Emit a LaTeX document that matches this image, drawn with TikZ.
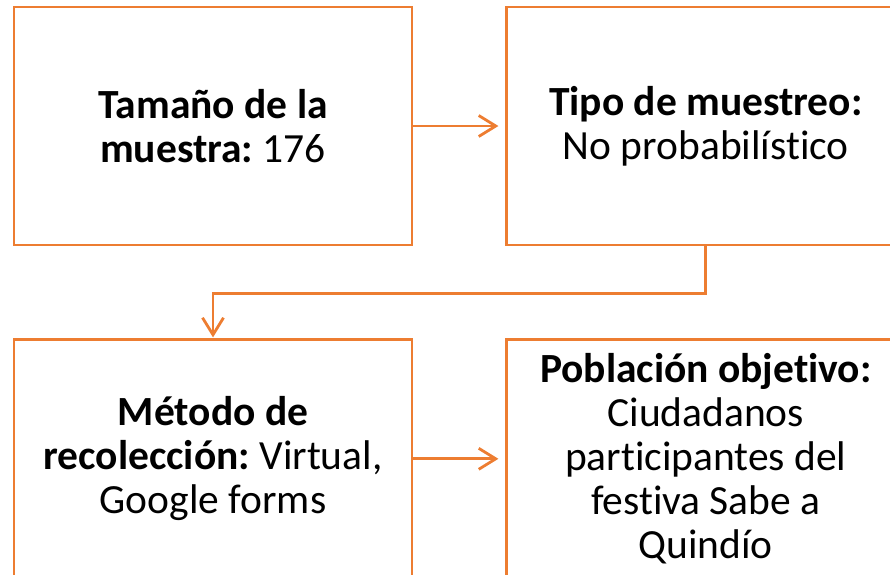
\documentclass[tikz,border=0pt]{standalone}
\usepackage{fontspec}
\setmainfont[Ligatures=NoCommon]{Carlito}
\frenchspacing
\usepackage{tikz}
\usetikzlibrary{arrows.meta,positioning}
\definecolor{boxorange}{HTML}{ED7D31}
\tikzstyle{cbox}=[rectangle, draw=boxorange, line width=2.8pt, minimum width=398pt, minimum height=238pt, align=center, inner sep=0pt, font=\fontsize{41.5}{44}\selectfont]
\tikzstyle{conn}=[draw=boxorange, line width=2.8pt, -{Straight Barb[length=17pt,width=21pt]}]

\begin{document}
\begin{tikzpicture}[x=1pt,y=-1pt,node distance=92pt and 92pt]
			\useasboundingbox (0,0) rectangle (890,574);
			\clip (0,0) rectangle (890,574);
			\node[cbox] (tamano) at (213,126) {\textbf{Tamaño de la}\\\textbf{muestra:} 176};
			\node[cbox,right=of tamano] (tipo) {\textbf{Tipo de muestreo:}\\No probabilístico};
			\node[cbox,below=of tamano] (metodo) {\textbf{Método de}\\\textbf{recolección:} Virtual,\\Google forms};
			\node[cbox,right=of metodo] (poblacion) {\textbf{Población objetivo:}\\Ciudadanos\\participantes del\\festiva Sabe a\\Quindío};

			\draw[conn,shorten >=7pt] (tamano) -- (tipo);
			\draw[conn,shorten >=1pt] (tipo.south) -- ++(0,47) -| (metodo.north);
			\draw[conn,shorten >=7pt] (metodo) -- (poblacion);
		\end{tikzpicture}
\end{document}
